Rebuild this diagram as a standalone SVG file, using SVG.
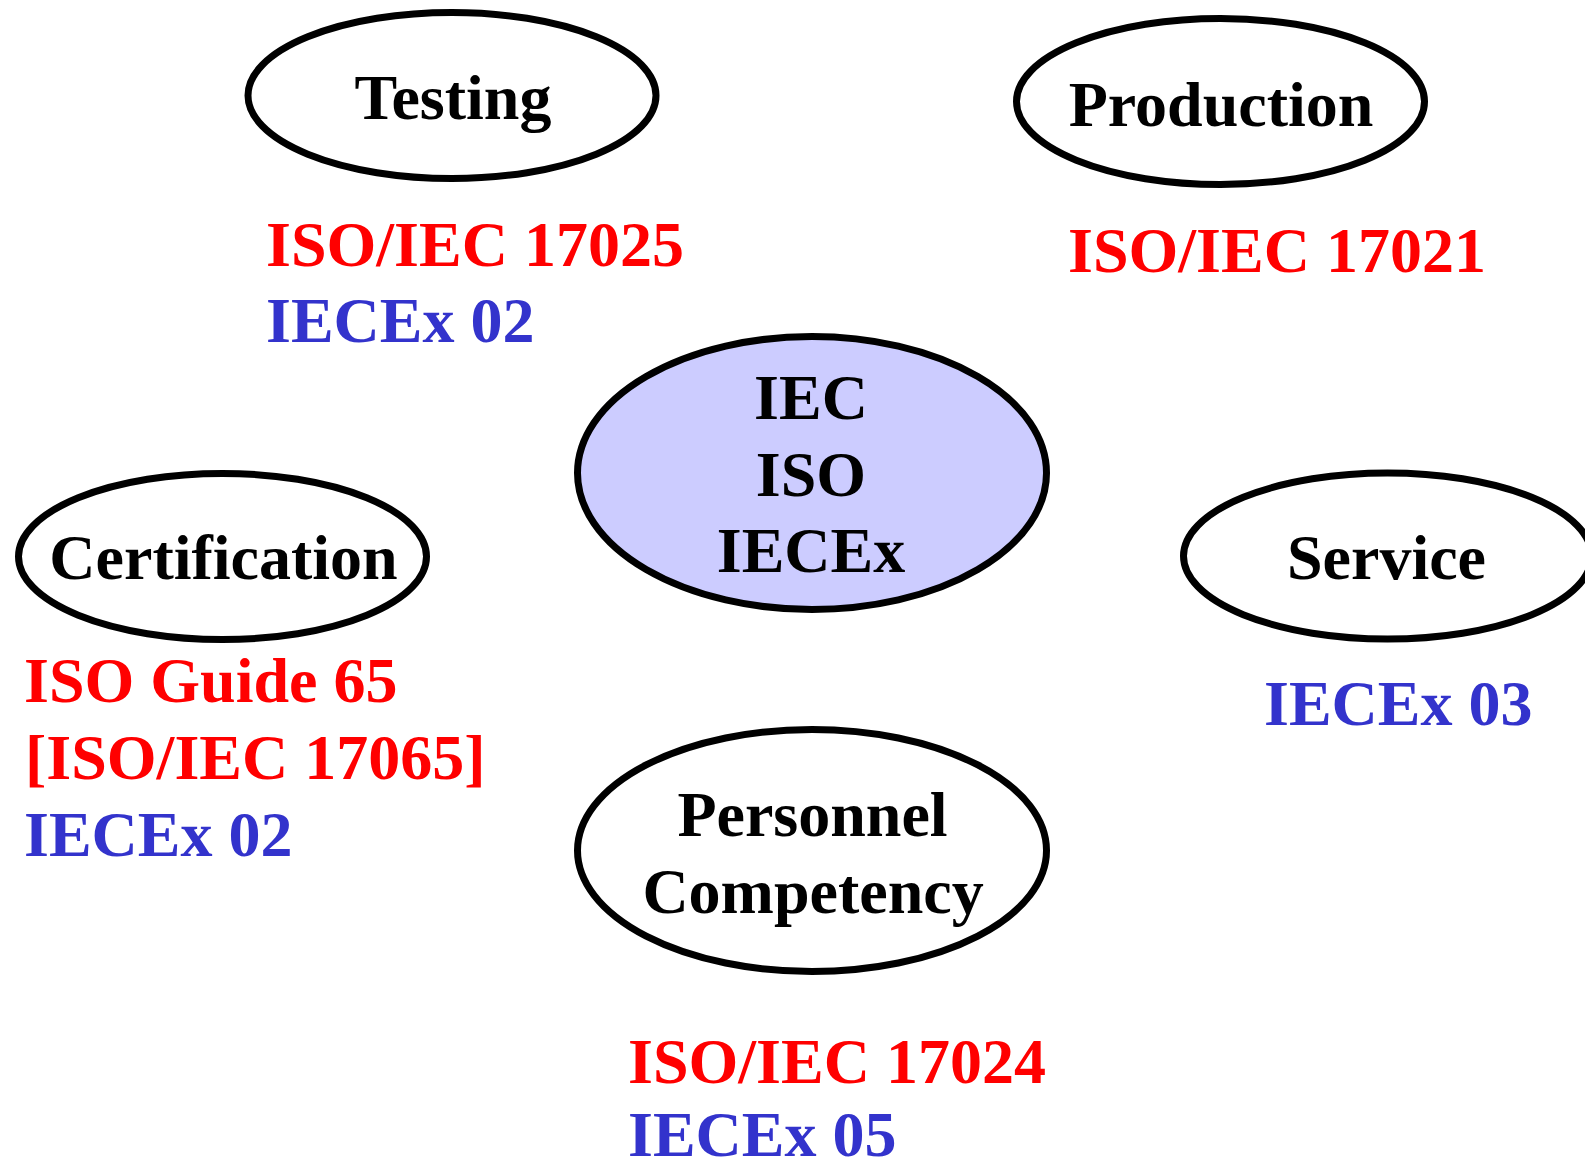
<svg xmlns="http://www.w3.org/2000/svg" width="1585" height="1162" viewBox="0 0 1585 1162">
<style>
.node{fill:#fff;stroke:#000;stroke-width:7}
.hub{fill:#ccccff;stroke:#000;stroke-width:7}
text{font-family:"Liberation Serif","Times New Roman",serif;font-weight:bold;font-size:64px}
.lbl{fill:#000;text-anchor:middle}
.red{fill:#ff0000}
.blue{fill:#3333cc}
</style>
<rect width="1585" height="1162" fill="#fff"/>
<g id="connectors"></g>
<g id="testing">
<ellipse class="node" cx="452" cy="95.5" rx="204" ry="83"/>
<text class="lbl" x="453" y="119">Testing</text>
<text class="red" x="266" y="266">ISO/IEC 17025</text>
<text class="blue" x="266" y="342">IECEx 02</text>
</g>
<g id="production">
<ellipse class="node" cx="1220.5" cy="101.5" rx="204" ry="83"/>
<text class="lbl" x="1221" y="126">Production</text>
<text class="red" x="1068" y="272">ISO/IEC 17021</text>
</g>
<g id="hub">
<ellipse class="hub" cx="812" cy="473" rx="234.5" ry="136.5"/>
<text class="lbl" x="811" y="419">IEC</text>
<text class="lbl" x="811" y="496">ISO</text>
<text class="lbl" x="811" y="572">IECEx</text>
</g>
<g id="certification">
<ellipse class="node" cx="222.5" cy="556.5" rx="204" ry="83"/>
<text class="lbl" x="223.5" y="579">Certification</text>
<text class="red" x="24" y="702">ISO Guide 65</text>
<text class="red" x="25" y="779">[ISO/IEC 17065]</text>
<text class="blue" x="24" y="856">IECEx 02</text>
</g>
<g id="service">
<ellipse class="node" cx="1387.5" cy="556" rx="204" ry="83"/>
<text class="lbl" x="1386.5" y="579">Service</text>
<text class="blue" x="1264" y="725">IECEx 03</text>
</g>
<g id="personnel">
<ellipse class="node" cx="812" cy="850.5" rx="234.5" ry="121"/>
<text class="lbl" x="812.5" y="836">Personnel</text>
<text class="lbl" x="813" y="913">Competency</text>
<text class="red" x="628" y="1083">ISO/IEC 17024</text>
<text class="blue" x="628" y="1156">IECEx 05</text>
</g>
</svg>
